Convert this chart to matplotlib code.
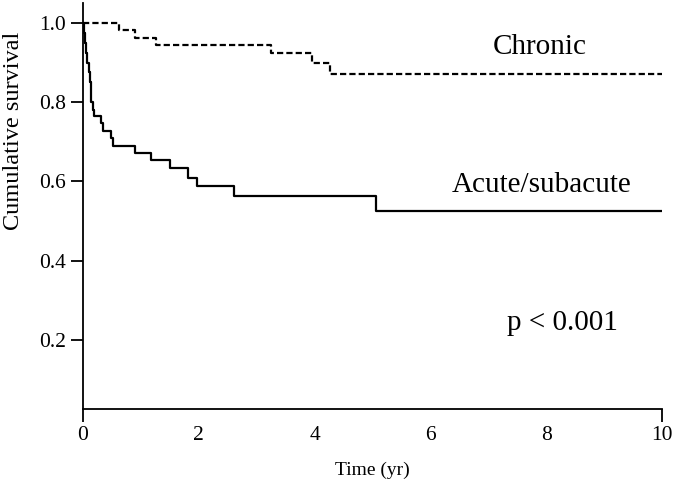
import matplotlib
matplotlib.use("Agg")
import matplotlib.pyplot as plt

plt.rcParams['font.family'] = ['Liberation Serif', 'DejaVu Serif']

# Kaplan-Meier step data
acute_t = [0, 0.02, 0.04, 0.06, 0.08, 0.10, 0.13, 0.15, 0.17, 0.19, 0.31, 0.35,
           0.48, 0.52, 0.90, 1.17, 1.51, 1.82, 1.98, 2.61, 5.06, 10]
acute_s = [1.0, 0.975, 0.95, 0.925, 0.90, 0.875, 0.85, 0.80, 0.78, 0.765, 0.748, 0.728,
           0.71, 0.69, 0.672, 0.653, 0.633, 0.609, 0.588, 0.563, 0.525, 0.525]

chronic_t = [0, 0.63, 0.91, 1.26, 3.24, 3.95, 4.26, 10]
chronic_s = [1.0, 0.983, 0.962, 0.944, 0.924, 0.899, 0.872, 0.872]

x_labels = [0, 2, 4, 6, 8, 10]
y_ticks = [0.2, 0.4, 0.6, 0.8, 1.0]

fig = plt.figure(figsize=(6.78, 4.92), dpi=100)
ax = fig.add_axes([0.122, 0.1687, 0.855, 0.825])

ax.step(acute_t, acute_s, where='post', color='black', lw=1.6)
ax.step(chronic_t, chronic_s, where='post', color='black', lw=1.6,
        linestyle=(0, (2.8, 1.4)))

ax.set_xlim(0, 10)
ax.set_ylim(0.026, 1.05)
ax.spines['top'].set_visible(False)
ax.spines['right'].set_visible(False)
ax.spines['left'].set_linewidth(1.3)
ax.spines['bottom'].set_linewidth(1.3)

ax.set_xticks(x_labels)
ax.set_xticklabels([str(v) for v in x_labels])
for tk in ax.xaxis.get_major_ticks()[1:-1]:
    tk.tick1line.set_visible(False)
ax.set_yticks(y_ticks)
ax.set_yticklabels([f'{v:.1f}' for v in y_ticks])
ax.tick_params(axis='both', direction='out', length=9, width=1.3,
               labelsize=15.5, pad=3)

ax.set_xlabel('Time (yr)', fontsize=14, labelpad=12)
ax.set_ylabel('Cumulative survival', fontsize=17.5)
ax.yaxis.set_label_coords(-0.102, 0.685)

ax.text(7.89, 0.939, 'Chronic', fontsize=21, ha='center', va='center')
ax.text(7.92, 0.591, 'Acute/subacute', fontsize=21, ha='center', va='center')
ax.text(8.27, 0.242, 'p < 0.001', fontsize=21, ha='center', va='center')

fig.savefig('out.png', dpi=100)
